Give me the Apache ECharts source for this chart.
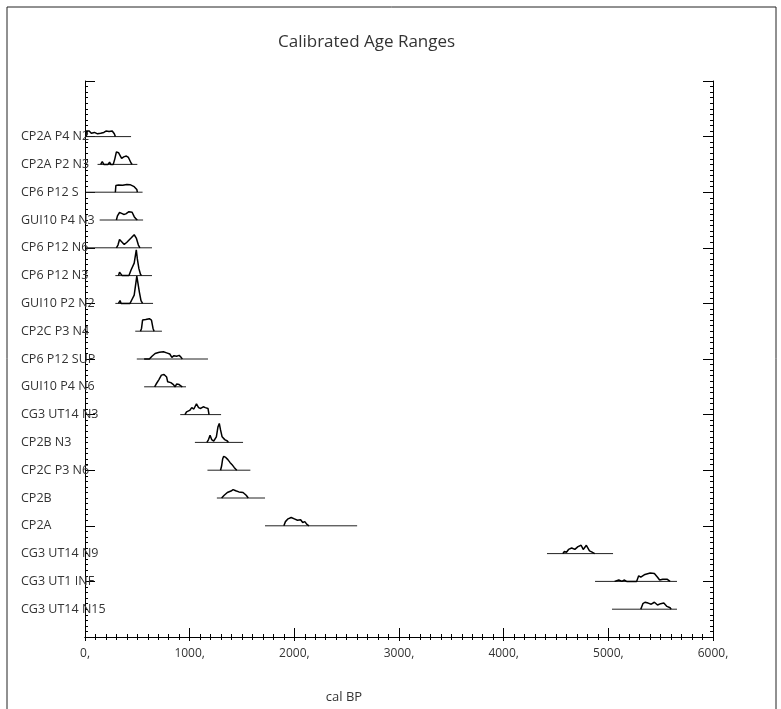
<!DOCTYPE html>
<html><head><meta charset="utf-8">
<script src="https://cdn.jsdelivr.net/npm/echarts@6/dist/echarts.min.js"></script>
<style>html,body{margin:0;padding:0;background:#fff}#c{width:781px;height:709px}</style>
</head><body><div id="c"></div>
<script>
// sample names, top to bottom
const sampleNames = ['CP2A P4 N2','CP2A P2 N3','CP6 P12 S','GUI10 P4 N3','CP6 P12 N6','CP6 P12 N3','GUI10 P2 N2','CP2C P3 N4','CP6 P12 SUP','GUI10 P4 N6','CG3 UT14 N3','CP2B N3','CP2C P3 N6','CP2B','CP2A','CG3 UT14 N9','CG3 UT1 INF','CG3 UT14 N15'];
// calibrated range (cal BP), same order
const rangeStart = [0,120,10,140,10,290,290,480,495,565,910,1050,1170,1260,1720,4414,4873,5035];
const rangeEnd   = [440,500,550,555,640,640,650,735,1175,965,1300,1510,1580,1720,2600,5045,5656,5656];
const xTicks = [0,1000,2000,3000,4000,5000,6000];
// probability curves: [cal BP, relative height]
const cCP2A_P4_N2 = [[10,0],[12,0.2],[40,0.2],[60,0.12],[90,0.15],[120,0.1],[150,0.12],[180,0.15],[200,0.2],[230,0.18],[260,0.2],[280,0.1],[290,0]];
const cCP2A_P2_N3 = [[150,0],[165,0.1],[180,0],[220,0],[235,0.08],[245,0],[270,0],[285,0.2],[300,0.45],[320,0.42],[350,0.22],[370,0.27],[395,0.3],[415,0.25],[440,0.05],[450,0]];
const cCP6_P12_S = [[290,0],[295,0.24],[320,0.26],[360,0.25],[400,0.28],[430,0.27],[470,0.2],[495,0.1],[500,0]];
const cGUI10_P4_N3 = [[300,0],[310,0.15],[330,0.27],[350,0.24],[370,0.2],[390,0.22],[420,0.3],[450,0.28],[470,0.12],[490,0.03],[500,0]];
const cCP6_P12_N6 = [[300,0],[315,0.1],[330,0.3],[350,0.22],[375,0.12],[400,0.2],[440,0.35],[470,0.47],[490,0.35],[510,0.1],[525,0]];
const cCP6_P12_N3 = [[320,0],[330,0.12],[345,0.12],[355,0],[420,0],[440,0.2],[470,0.45],[490,0.93],[500,0.6],[515,0.25],[530,0.05],[540,0]];
const cGUI10_P2_N2 = [[320,0],[335,0.1],[345,0],[430,0],[450,0.15],[470,0.3],[485,0.35],[495,0.98],[510,0.98],[520,0.4],[535,0.1],[550,0]];
const cCP2C_P3_N4 = [[530,0],[540,0.1],[550,0.4],[565,0.45],[580,0.42],[595,0.48],[615,0.45],[635,0.4],[650,0.1],[660,0]];
const cCP6_P12_SUP = [[565,0],[573,0.06],[580,0],[615,0],[640,0.1],[670,0.2],[710,0.24],[750,0.26],[780,0.22],[810,0.18],[830,0.06],[850,0.12],[875,0.1],[900,0.13],[920,0.05],[930,0]];
const cGUI10_P4_N6 = [[665,0],[680,0.1],[705,0.25],[730,0.42],[755,0.44],[780,0.35],[790,0.18],[820,0.15],[845,0.08],[860,0],[875,0.1],[900,0.08],[920,0.02],[930,0]];
const cCG3_UT14_N3 = [[955,0],[970,0.1],[1000,0.15],[1020,0.25],[1040,0.2],[1065,0.39],[1085,0.25],[1105,0.22],[1130,0.28],[1150,0.25],[1175,0.22],[1185,0]];
const cCP2B_N3 = [[1165,0],[1180,0.1],[1195,0.26],[1210,0.1],[1230,0.05],[1255,0.2],[1270,0.55],[1283,0.68],[1295,0.45],[1310,0.2],[1335,0.1],[1360,0.05],[1370,0]];
const cCP2C_P3_N6 = [[1295,0],[1305,0.15],[1315,0.4],[1325,0.5],[1345,0.46],[1365,0.38],[1385,0.28],[1405,0.2],[1425,0.1],[1440,0.05],[1450,0]];
const cCP2B = [[1305,0],[1330,0.1],[1360,0.2],[1395,0.25],[1415,0.3],[1440,0.26],[1470,0.22],[1510,0.2],[1540,0.1],[1560,0]];
const cCP2A = [[1900,0],[1915,0.15],[1940,0.25],[1970,0.3],[2000,0.25],[2030,0.2],[2060,0.22],[2080,0.12],[2100,0.15],[2120,0.05],[2140,0]];
const cCG3_UT14_N9 = [[4565,0],[4580,0.08],[4600,0.05],[4620,0.15],[4650,0.2],[4680,0.15],[4710,0.25],[4740,0.3],[4760,0.15],[4790,0.3],[4820,0.1],[4845,0.05],[4870,0]];
const cCG3_UT1_INF = [[5060,0],[5075,0.05],[5100,0.05],[5110,0],[5130,0],[5150,0.05],[5175,0],[5270,0],[5290,0.2],[5310,0.15],[5350,0.25],[5400,0.3],[5440,0.28],[5470,0.15],[5490,0.05],[5520,0.08],[5560,0.08],[5590,0]];
const cCG3_UT14_N15 = [[5310,0],[5330,0.2],[5350,0.25],[5380,0.22],[5410,0.18],[5440,0.25],[5470,0.15],[5500,0.2],[5530,0.22],[5560,0.1],[5590,0.05],[5600,0]];
const curves = [cCP2A_P4_N2,cCP2A_P2_N3,cCP6_P12_S,cGUI10_P4_N3,cCP6_P12_N6,cCP6_P12_N3,cGUI10_P2_N2,cCP2C_P3_N4,cCP6_P12_SUP,cGUI10_P4_N6,cCG3_UT14_N3,cCP2B_N3,cCP2C_P3_N6,cCP2B,cCP2A,cCG3_UT14_N9,cCG3_UT1_INF,cCG3_UT14_N15];

const n = sampleNames.length;
const rowOf = i => n - i; // top sample at 18, bottom at 1
const series = [];
sampleNames.forEach((name, i) => {
  const r = rowOf(i);
  series.push({type:'line', name: name+' range', symbol:'none', silent:true, animation:false,
    lineStyle:{color:'#222', width:1}, data:[[rangeStart[i], r],[rangeEnd[i], r]]});
  series.push({type:'line', name: name, symbol:'none', silent:true, animation:false,
    lineStyle:{color:'#000', width:1.5}, data: curves[i].map(p => [p[0], r + p[1]])});
});

const font = "'Open Sans', 'Noto Sans', sans-serif";
const chart = echarts.init(document.getElementById('c'), null, {renderer:'canvas'});
chart.setOption({
  backgroundColor:'#fff',
  animation:false,
  title:{text:'Calibrated Age Ranges', left:273, top:29, textStyle:{fontFamily:font, fontSize:17, fontWeight:'normal', color:'#333'}},
  grid:{left:85, right:68, top:81, bottom:65, containLabel:false},
  graphic:[{type:'rect', shape:{x:7, y:7, width:769, height:710}, style:{fill:'none', stroke:'#222', lineWidth:1}, silent:true}],
  xAxis:[
    {type:'value', position:'bottom', min:0, max:6000, interval:1000,
     name:'cal BP', nameLocation:'middle', nameGap:54, nameTextStyle:{fontFamily:font, fontSize:13, color:'#333', padding:[0,110,0,0]},
     axisLine:{lineStyle:{color:'#000'}}, axisTick:{inside:true, length:9, lineStyle:{color:'#000'}},
     minorTick:{show:true, splitNumber:10, length:3, lineStyle:{color:'#000'}},
     splitLine:{show:false},
     axisLabel:{formatter:v => xTicks.indexOf(v) >= 0 ? v + ',' : '', margin:11, fontFamily:font, fontSize:12, color:'#333'}},
    {type:'value', position:'top', min:0, max:6000, interval:1000,
     axisLine:{lineStyle:{color:'#000'}}, axisTick:{inside:true, length:4, lineStyle:{color:'#000'}},
     minorTick:{show:true, splitNumber:10, length:3, lineStyle:{color:'#000'}},
     splitLine:{show:false}, axisLabel:{show:false}}
  ],
  yAxis:[
    {type:'value', position:'left', min:0, max:20, interval:2,
     axisLine:{show:true, lineStyle:{color:'#000'}}, axisTick:{show:true, inside:true, length:10, lineStyle:{color:'#000'}},
     minorTick:{show:true, splitNumber:10, length:3, lineStyle:{color:'#000'}},
     splitLine:{show:false}, axisLabel:{show:false}},
    {type:'value', position:'left', min:0, max:20, interval:1,
     axisLine:{show:false}, axisTick:{show:false}, splitLine:{show:false},
     axisLabel:{show:true, align:'left', margin:64, padding:[0,0,10,0], fontFamily:font, fontSize:12.5, color:'#333',
       formatter:v => (v >= 1 && v <= n) ? sampleNames[n - v] : ''}},
    {type:'value', position:'right', min:0, max:20, interval:2,
     axisLine:{show:true, lineStyle:{color:'#000'}}, axisTick:{show:true, inside:true, length:10, lineStyle:{color:'#000'}},
     minorTick:{show:true, splitNumber:10, length:3, lineStyle:{color:'#000'}},
     splitLine:{show:false}, axisLabel:{show:false}}
  ],
  series: series
});
</script></body></html>
